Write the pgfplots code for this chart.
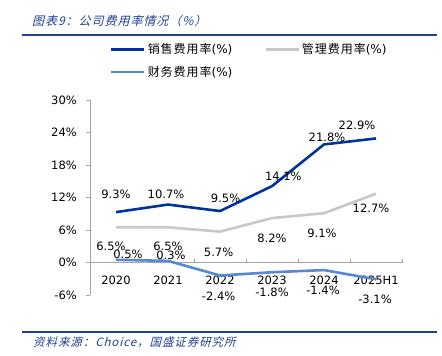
\documentclass[border=0pt]{standalone}
\usepackage{pgfplots}
\pgfplotsset{compat=1.18}
\usepackage{pgfplotstable}
\usepackage{fontspec}
\setmainfont{DejaVu Sans}
\newfontfamily\cjk[LetterSpace=8]{Noto Sans CJK SC}
\newfontfamily\cjkit[FakeSlant=0.25,LetterSpace=8]{Noto Sans CJK SC}
\definecolor{xiaoshou}{RGB}{0,52,154}
\definecolor{guanli}{RGB}{200,200,200}
\definecolor{caiwu}{RGB}{85,138,210}
\definecolor{titleblue}{RGB}{31,64,150}
\definecolor{axisgray}{RGB}{165,165,165}

\pgfplotstableread{
x y lx ly
0 9.3 0 17.6
1 10.7 -2 10
2 9.5 5.6 12.5
3 14.1 11.4 9.6
4 21.8 3 7
5 22.9 -19 13
}\tabxiaoshou
\pgfplotstableread{
x y lx ly
0 6.5 -5 -19.2
1 6.5 0 -19.2
2 5.7 -1.4 -20.6
3 8.2 0 -20.7
4 9.1 -2 -20.6
5 12.7 -5 -14.8
}\tabguanli
\pgfplotstableread{
x y lx ly
0 0.5 12 5
1 0.3 3 6
2 -2.4 -1.4 -20.7
3 -1.8 0 -20
4 -1.4 -1 -20.4
5 -3.1 -1 -20.5
}\tabcaiwu

\pgfplotsset{
  datalabels/.style={
    draw=none, no markers, forget plot,
    nodes near coords={\pgfmathprintnumber[fixed,precision=1,fixed zerofill]{\pgfplotspointmeta}\%},
    point meta=\thisrow{y},
    every node near coord/.style={anchor=center, text=black, inner sep=0pt,
      font=\fontsize{11.5bp}{13bp}\selectfont},
  },
}

\begin{document}
\begin{tikzpicture}
\fill[white] (0,0) rectangle (442bp,-356bp);
\useasboundingbox (0,0) rectangle (442bp,-356bp);
\node[anchor=west, text=titleblue, font=\cjkit\fontsize{12bp}{14bp}\selectfont, inner sep=0pt] at (32bp,-21bp) {图表9：公司费用率情况（\%）};
\draw[titleblue, line width=1.5bp] (22bp,-35bp) -- (437bp,-35bp);
\draw[titleblue, line width=1.5bp] (22bp,-332bp) -- (437bp,-332bp);
\node[anchor=west, text=titleblue, font=\cjkit\fontsize{11.5bp}{14bp}\selectfont, inner sep=0pt] at (33bp,-342bp) {资料来源：Choice，国盛证券研究所};
\begin{axis}[
  at={(90bp,-295bp)}, anchor=south west,
  scale only axis, width=312bp, height=195bp,
  xmin=-0.5, xmax=5.5, ymin=-6, ymax=30,
  xtick={0,...,5}, xticklabels={2020,2021,2022,2023,2024,2025H1},
  ytick={-6,0,6,12,18,24,30},
  yticklabel={\pgfmathprintnumber{\tick}\%},
  axis line style={draw=none}, major tick length=0pt,
  xticklabel style={anchor=center, yshift=15bp, inner sep=0pt},
  yticklabel style={anchor=east, xshift=-13bp, inner sep=0pt},
  tick label style={font=\fontsize{11.5bp}{13bp}\selectfont},
  /pgf/number format/assume math mode=true,
  clip=false,
  legend columns=2,
  legend cell align=left,
  legend image code/.code={\draw[#1] (0bp,0bp) -- (33bp,0bp);},
  legend style={at={(rel axis cs:0.064,1.30)}, anchor=north west, draw=none, fill=none,
    inner sep=0pt, font=\cjk\fontsize{12bp}{14bp}\selectfont,
    /tikz/every even column/.append style={column sep=30bp}, row sep=7bp},
]
\draw[axisgray, line width=0.8bp] (axis cs:-0.5,-6) -- (axis cs:-0.5,30);
\pgfplotsinvokeforeach{-6,0,6,12,18,24,30}{\draw[axisgray, line width=0.8bp] (axis cs:-0.5,#1) -- ([xshift=-4bp]axis cs:-0.5,#1);}
\draw[axisgray, line width=0.8bp] (axis cs:-0.5,0) -- (axis cs:5.5,0);
\pgfplotsinvokeforeach{0.5,1.5,2.5,3.5,4.5,5.5}{\draw[axisgray, line width=0.8bp] (axis cs:#1,0) -- ([yshift=4bp]axis cs:#1,0);}
\addplot[xiaoshou, line width=2.6bp, no markers] table[x=x,y=y] {\tabxiaoshou};
\addlegendentry{销售费用率{\rmfamily(\%)}}
\addplot[guanli, line width=2.6bp, no markers] table[x=x,y=y] {\tabguanli};
\addlegendentry{管理费用率{\rmfamily(\%)}}
\addplot[caiwu, line width=2.6bp, no markers] table[x=x,y=y] {\tabcaiwu};
\addlegendentry{财务费用率{\rmfamily(\%)}}
\addplot[datalabels] table[x expr=\thisrow{x}+\thisrow{lx}/52, y expr=\thisrow{y}+\thisrow{ly}/5.4167] {\tabxiaoshou};
\addplot[datalabels] table[x expr=\thisrow{x}+\thisrow{lx}/52, y expr=\thisrow{y}+\thisrow{ly}/5.4167] {\tabguanli};
\addplot[datalabels] table[x expr=\thisrow{x}+\thisrow{lx}/52, y expr=\thisrow{y}+\thisrow{ly}/5.4167] {\tabcaiwu};
\end{axis}
\end{tikzpicture}
\end{document}
